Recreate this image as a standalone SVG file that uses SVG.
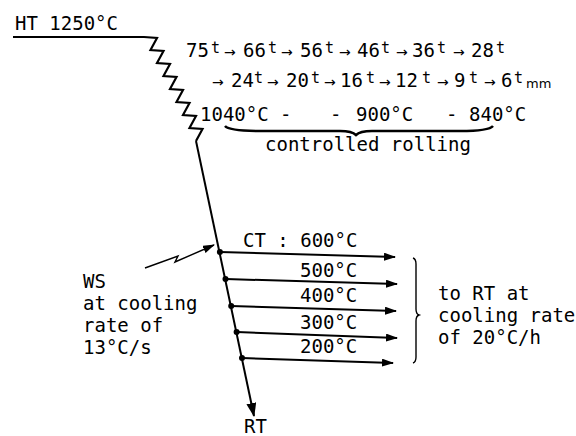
<svg xmlns="http://www.w3.org/2000/svg" width="576" height="436" viewBox="0 0 576 436">
<defs>
<style>
text{font-family:"DejaVu Sans Mono","Liberation Mono",monospace;font-size:19px;fill:#000}
.s{font-size:15px}
.a{font-family:"DejaVu Sans",sans-serif;font-size:14px}
.m{font-family:"DejaVu Sans",sans-serif;font-size:13px}
.ln{fill:none;stroke:#000;stroke-width:2;stroke-linejoin:miter}
.zz{fill:none;stroke:#000;stroke-width:2.2;stroke-linejoin:miter}
.th{fill:none;stroke:#000;stroke-width:1.4}
.dot{fill:#000}
</style>
<marker id="ah" viewBox="0 0 12 8" refX="11" refY="4" markerWidth="12" markerHeight="8" markerUnits="userSpaceOnUse" orient="auto">
<path d="M0,0 L12,4 L0,8 Z" fill="#000"/>
</marker>
<marker id="ah2" viewBox="0 0 14 10" refX="13" refY="5" markerWidth="14" markerHeight="10" markerUnits="userSpaceOnUse" orient="auto">
<path d="M0,0 L14,5 L0,10 Z" fill="#000"/>
</marker>
</defs>
<rect width="576" height="436" fill="#fff"/>

<g id="connectors">
<path class="zz" d="M13,37 L144,37 L157,38 L150.5,50 L163.5,51 L157,63 L170,64 L163.5,76 L176.5,77 L170,89 L183,90 L176.5,102 L189.5,103 L183,115 L196,116 L189.5,128 L202.5,129 L196,141"/>
<path class="ln" d="M196,141 L254,416" marker-end="url(#ah2)"/>
<path class="ln" d="M220,252 L395,257" marker-end="url(#ah)"/>
<path class="ln" d="M226,279 L397,284" marker-end="url(#ah)"/>
<path class="ln" d="M231,306 L396,311" marker-end="url(#ah)"/>
<path class="ln" d="M237,332 L397,338" marker-end="url(#ah)"/>
<path class="ln" d="M242,358 L393,363" marker-end="url(#ah)"/>
<path class="th" d="M145,268 L178,256 L175,262 L214,245" marker-end="url(#ah)"/>
<path d="M225,126 Q229,131 262,131 L340,131 Q352,131 356,135 Q360,131 372,131 L460,131 Q489,131 493,126" fill="none" stroke="#000" stroke-width="2.5"/>
<path class="th" d="M413,258 Q416,259 416,264 L416,309 Q416,314 419,315 Q416,316 416,321 L416,357 Q416,362 413,363"/>
</g>

<g id="dots">
<circle class="dot" cx="219.9" cy="252" r="3"/>
<circle class="dot" cx="225.5" cy="279" r="3"/>
<circle class="dot" cx="231.2" cy="306" r="3"/>
<circle class="dot" cx="236.6" cy="332" r="3"/>
<circle class="dot" cx="242" cy="358" r="3"/>
</g>

<g id="ht"><text x="15" y="30">HT 1250°C</text></g>

<g id="rolling-line1">
<text x="186" y="57">75</text><text class="s" x="211" y="53">t</text><text class="a" x="224" y="57">→</text>
<text x="243" y="57">66</text><text class="s" x="268" y="53">t</text><text class="a" x="281" y="57">→</text>
<text x="300" y="57">56</text><text class="s" x="325" y="53">t</text><text class="a" x="339" y="57">→</text>
<text x="357" y="57">46</text><text class="s" x="381" y="53">t</text><text class="a" x="396" y="57">→</text>
<text x="412" y="57">36</text><text class="s" x="437" y="53">t</text><text class="a" x="453" y="57">→</text>
<text x="471" y="57">28</text><text class="s" x="496" y="53">t</text>
</g>
<g id="rolling-line2">
<text class="a" x="212" y="87">→</text><text x="231" y="87">24</text><text class="s" x="254" y="83">t</text>
<text class="a" x="267" y="87">→</text><text x="286" y="87">20</text><text class="s" x="311" y="83">t</text>
<text class="a" x="324" y="87">→</text><text x="340" y="87">16</text><text class="s" x="366" y="83">t</text>
<text class="a" x="379" y="87">→</text><text x="395" y="87">12</text><text class="s" x="422" y="83">t</text>
<text class="a" x="437" y="87">→</text><text x="454" y="87">9</text><text class="s" x="469" y="83">t</text>
<text class="a" x="484" y="87">→</text><text x="501" y="87">6</text><text class="s" x="514" y="83">t</text><text class="m" x="526" y="88">mm</text>
</g>
<g id="temps">
<text x="200" y="121">1040°C -</text>
<text x="330" y="121">-</text>
<text x="356" y="121">900°C</text>
<text x="446" y="121">-</text>
<text x="469" y="121">840°C</text>
<text x="265" y="151">controlled rolling</text>
</g>

<g id="ws">
<text x="83" y="288">WS</text>
<text x="83" y="310">at cooling</text>
<text x="83" y="332">rate of</text>
<text x="83" y="354">13°C/s</text>
</g>

<g id="ct">
<text x="243" y="247">CT : 600°C</text>
<text x="300" y="277">500°C</text>
<text x="300" y="302">400°C</text>
<text x="300" y="329">300°C</text>
<text x="300" y="353">200°C</text>
</g>

<g id="slow">
<text x="438" y="300">to RT at</text>
<text x="438" y="322">cooling rate</text>
<text x="438" y="344">of 20°C/h</text>
</g>

<g id="rt"><text x="244" y="433">RT</text></g>
</svg>
